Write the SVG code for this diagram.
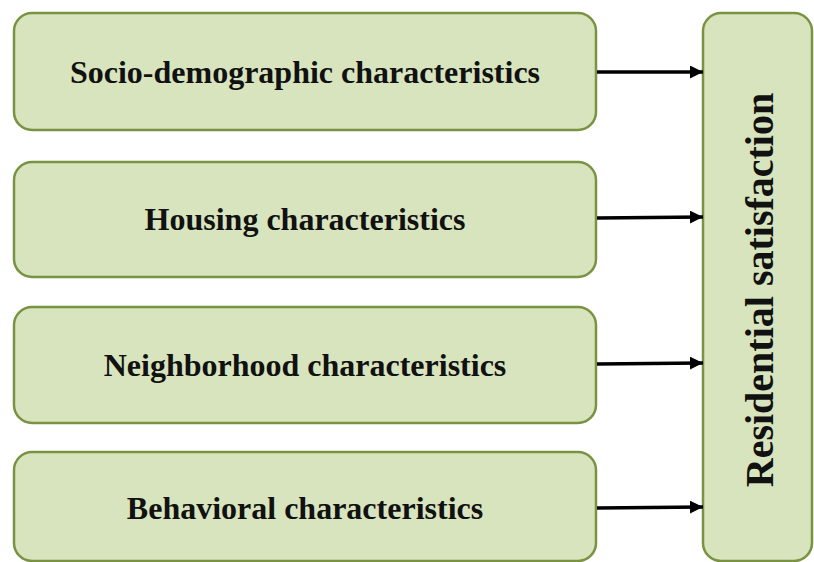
<svg xmlns="http://www.w3.org/2000/svg" width="814" height="562" viewBox="0 0 814 562">
<style>
.box{fill:#d7e4bd;stroke:#7a9343;stroke-width:2.5}
.t{font-family:"Liberation Serif","Times New Roman",serif;font-weight:bold;font-size:32px;fill:#111;text-anchor:middle}
.c{stroke:#000;stroke-width:3.5;fill:none;marker-end:url(#ah)}
</style>
<defs>
<marker id="ah" markerWidth="13" markerHeight="13" viewBox="0 0 13 13" refX="13" refY="6.5" orient="auto" markerUnits="userSpaceOnUse">
<path d="M0,0 L13,6.5 L0,13 Z" fill="#000"/>
</marker>
</defs>
<rect width="814" height="562" fill="#fff"/>
<g id="n1"><rect class="box" x="14" y="13" width="582" height="117" rx="18"/><text class="t" x="305" y="83">Socio-demographic characteristics</text></g>
<g id="n2"><rect class="box" x="14" y="162" width="582" height="115" rx="18"/><text class="t" x="305" y="230">Housing characteristics</text></g>
<g id="n3"><rect class="box" x="14" y="307" width="582" height="116" rx="18"/><text class="t" x="305" y="376">Neighborhood characteristics</text></g>
<g id="n4"><rect class="box" x="14" y="452" width="582" height="109" rx="18"/><text class="t" x="305" y="519">Behavioral characteristics</text></g>
<g id="n5"><rect class="box" x="703" y="13" width="109" height="548" rx="18"/><text class="t" style="font-size:40px" transform="translate(773,290) rotate(-90)" x="0" y="0">Residential satisfaction</text></g>
<g id="connectors">
<line class="c" x1="597" y1="72" x2="703" y2="72"/>
<line class="c" x1="597" y1="218" x2="703" y2="217"/>
<line class="c" x1="597" y1="364" x2="703" y2="363"/>
<line class="c" x1="597" y1="508" x2="703" y2="507"/>
</g>
</svg>
